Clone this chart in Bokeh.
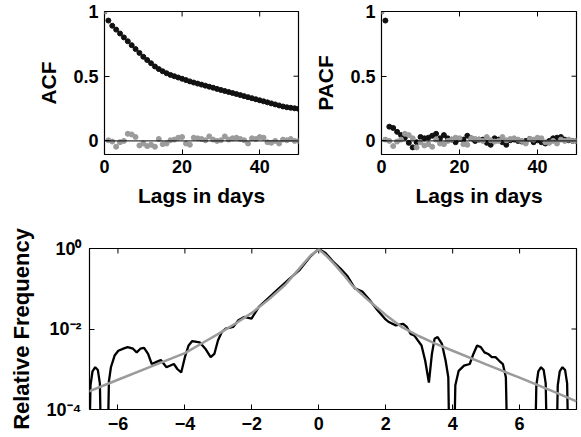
from math import pi
from bokeh.plotting import figure
from bokeh.layouts import column, row
from bokeh.models import FixedTicker, Span, Range1d, CustomJSTickFormatter
from bokeh.embed import file_html
from bokeh.resources import INLINE

# ---------------- data ----------------
lags = list(range(51))

acf_black = [1.0, 0.93, 0.89, 0.86, 0.83, 0.80, 0.77, 0.74, 0.71, 0.68, 0.65,
             0.625, 0.60, 0.575, 0.555, 0.538, 0.523, 0.51, 0.50, 0.49, 0.48,
             0.47, 0.46, 0.451, 0.443, 0.435, 0.427, 0.419, 0.411, 0.402, 0.394,
             0.386, 0.378, 0.37, 0.362, 0.354, 0.346, 0.338, 0.33, 0.322, 0.314,
             0.306, 0.298, 0.29, 0.282, 0.274, 0.266, 0.26, 0.256, 0.252, 0.248]

acf_gray = [1.0, 0.005, -0.005, -0.045, -0.01, 0.0, 0.055, 0.05, 0.03, -0.035,
            -0.02, -0.04, -0.03, -0.045, 0.015, -0.025, -0.02, 0.005, 0.01, 0.025,
            0.03, -0.02, -0.03, 0.025, 0.02, 0.015, 0.005, 0.035, 0.01, 0.0,
            0.005, 0.035, 0.01, 0.02, 0.025, 0.015, 0.005, -0.02, 0.02, 0.015,
            0.03, 0.025, -0.01, -0.015, 0.0, -0.02, 0.01, 0.005, 0.015, 0.0, 0.0]

pacf_black = [1.0, 0.93, 0.11, 0.10, 0.07, 0.045, 0.025, -0.015, -0.05, -0.01,
              0.03, 0.02, 0.025, 0.04, 0.055, 0.02, 0.045, 0.02, 0.01, -0.01,
              0.015, 0.01, 0.04, 0.02, 0.0, 0.01, 0.01, -0.015, -0.03, 0.02,
              0.01, -0.01, -0.03, 0.005, 0.01, 0.0, -0.005, 0.0, 0.015, -0.01,
              0.005, -0.01, -0.02, 0.0, 0.02, 0.025, 0.03, 0.01, 0.005, 0.0, 0.0]

pacf_gray = [1.0, 0.01, 0.0, -0.04, -0.005, 0.01, 0.055, 0.045, 0.02, -0.05,
             -0.01, -0.035, -0.025, -0.045, 0.01, -0.02, -0.025, 0.0, 0.01, 0.025,
             0.02, -0.025, -0.03, 0.02, 0.015, 0.01, 0.0, 0.03, 0.005, -0.005,
             0.0, 0.03, 0.005, 0.015, 0.02, 0.01, 0.0, -0.02, 0.015, 0.01,
             0.025, 0.02, -0.01, -0.015, 0.0, -0.02, 0.01, 0.0, 0.01, 0.0, 0.0]

# empirical density (log10 of relative frequency); -6 = below axis (zero)
emp_x = [-6.88, -6.82, -6.76, -6.68, -6.60, -6.54, -6.48, -6.33, -6.27, -6.21,
         -6.10, -5.99, -5.82, -5.71, -5.55, -5.44, -5.33, -5.22, -5.10, -4.99,
         -4.88, -4.72, -4.55, -4.33, -4.22, -4.11, -4.00, -3.89, -3.78, -3.56,
         -3.39, -3.23, -3.12, -3.01, -2.90, -2.78, -2.56, -2.40, -2.23, -2.01,
         -1.79, -1.57, -1.24, -0.91, -0.57, -0.24, 0.0, 0.20, 0.42, 0.64,
         0.86, 1.08, 1.30, 1.52, 1.75, 1.97, 2.08, 2.30, 2.52, 2.63,
         2.74, 2.85, 3.07, 3.18, 3.29, 3.38, 3.46, 3.55, 3.68, 3.79,
         3.87, 3.92, 4.02, 4.08, 4.18, 4.34, 4.51, 4.62, 4.73, 4.84,
         4.95, 5.06, 5.17, 5.28, 5.39, 5.50, 5.59, 5.66, 6.44, 6.50,
         6.56, 6.64, 6.72, 6.78, 6.84, 7.08, 7.14, 7.20, 7.28, 7.36,
         7.42, 7.48, 7.7]
emp_log = [-6, -3.4, -3.05, -2.95, -3.02, -3.35, -6, -6, -3.3, -2.95,
           -2.66, -2.54, -2.48, -2.45, -2.49, -2.58, -2.49, -2.47, -2.62, -2.87,
           -2.83, -2.77, -2.95, -2.87, -3.00, -3.08, -2.70, -2.41, -2.30, -2.33,
           -2.49, -2.70, -2.62, -2.28, -2.08, -1.99, -1.95, -1.78, -1.70, -1.74,
           -1.45, -1.28, -1.03, -0.78, -0.53, -0.19, -0.01, -0.11, -0.32, -0.49,
           -0.69, -0.99, -1.07, -1.28, -1.53, -1.74, -1.82, -1.91, -1.87, -1.95,
           -2.12, -2.16, -2.41, -2.79, -3.33, -2.62, -2.24, -2.20, -2.37, -2.79,
           -3.2, -6, -6, -3.4, -3.04, -2.91, -2.87, -2.62, -2.41, -2.45,
           -2.58, -2.62, -2.70, -2.70, -2.79, -2.87, -3.2, -6, -6, -3.4,
           -3.05, -2.95, -3.02, -3.35, -6, -6, -3.4, -3.05, -2.95, -3.02,
           -3.35, -6, -6]

fit_x = [-6.9, -6.0, -5.0, -4.0, -3.5, -3.0, -2.5, -2.0, -1.5, -1.0, -0.75, -0.5,
         -0.25, 0.0, 0.25, 0.5, 0.75, 1.0, 1.5, 2.0, 2.5, 3.0, 3.5, 4.0, 5.0,
         6.0, 7.0, 7.7]
fit_log = [-3.56, -3.26, -2.93, -2.60, -2.36, -2.12, -1.87, -1.60, -1.27, -0.90,
           -0.66, -0.42, -0.18, -0.02, -0.20, -0.42, -0.66, -0.92, -1.30, -1.65,
           -1.96, -2.18, -2.37, -2.54, -2.88, -3.21, -3.55, -3.80]

lag_ticks = [0, 20, 40]
cf_ticks = [0, 0.5, 1]
dens_xticks = [-6, -4, -2, 0, 2, 4, 6]
dens_yticks = [1e-4, 1e-2, 1.0]

LAG_RANGE = (0, 50)
CF_RANGE = (-0.105, 1.0)
DX_RANGE = (-6.85, 7.7)
DY_RANGE = (1e-4, 1.0)

# ---------------- style ----------------
FONT = "Liberation Sans"
GRAY = "#9b9b9b"
plain_fmt = CustomJSTickFormatter(code="return String(tick).replace('-', '\u2212');")
log_fmt = CustomJSTickFormatter(code="""
const e = Math.round(Math.log10(tick));
const m = {'0':'\u2070','1':'\u00b9','2':'\u00b2','3':'\u00b3','4':'\u2074','-':'\u207b'};
return '10' + String(e).split('').map(c => m[c]).join('');
""")


def style_axes(p, tick_size, label_size):
    p.grid.visible = False
    p.outline_line_color = "black"
    p.outline_line_width = 1.2
    p.background_fill_color = "white"
    p.border_fill_color = "white"
    for ax in p.axis:
        ax.axis_line_color = None
        ax.major_tick_in = 5
        ax.major_tick_out = 0
        ax.minor_tick_line_color = None
        ax.major_tick_line_color = "black"
        ax.major_tick_line_width = 1
        ax.major_label_text_font = FONT
        ax.major_label_text_font_style = "bold"
        ax.major_label_text_font_size = tick_size
        ax.major_label_text_color = "black"
        ax.axis_label_text_font = FONT
        ax.axis_label_text_font_style = "bold"
        ax.axis_label_text_font_size = label_size
        ax.axis_label_text_color = "black"


def mirror_ticks(p, xt, yt, xr, yr):
    # inward ticks on the top and right edges (half of each dash is clipped)
    p.scatter(xt, [yr[1]] * len(xt), marker="dash", size=10, angle=pi / 2,
              line_color="black", line_width=1)
    p.scatter([xr[1]] * len(yt), yt, marker="dash", size=10,
              line_color="black", line_width=1)


def cf_plot(width, left, ylabel, black, gray):
    p = figure(width=width, height=215, x_range=Range1d(*LAG_RANGE),
               y_range=Range1d(*CF_RANGE), output_backend="svg",
               toolbar_location=None, min_border_left=left, min_border_right=2,
               min_border_top=11, min_border_bottom=61)
    p.xaxis.ticker = FixedTicker(ticks=lag_ticks)
    p.yaxis.ticker = FixedTicker(ticks=cf_ticks)
    p.xaxis.formatter = plain_fmt
    p.yaxis.formatter = plain_fmt
    p.xaxis.axis_label = "Lags in days"
    p.yaxis.axis_label = ylabel
    style_axes(p, "18px", "21px")
    p.xaxis.major_label_standoff = 5
    p.xaxis.axis_label_standoff = 8
    p.yaxis.major_label_standoff = 6
    p.yaxis.axis_label_standoff = 10
    p.add_layout(Span(location=0, dimension="width", line_color="black",
                      line_width=1))
    mirror_ticks(p, lag_ticks, cf_ticks, LAG_RANGE, CF_RANGE)
    p.scatter(lags, black, size=5, color="#111111")
    p.scatter(lags, gray, size=5, color=GRAY)
    return p


p1 = cf_plot(300, 104, "ACF", acf_black, acf_gray)
p2 = cf_plot(278, 81, "PACF", pacf_black, pacf_gray)

p3 = figure(width=578, height=222, x_range=Range1d(*DX_RANGE),
            y_range=Range1d(*DY_RANGE), y_axis_type="log", output_backend="svg",
            toolbar_location=None, min_border_left=89, min_border_right=2,
            min_border_top=33, min_border_bottom=28)
p3.xaxis.ticker = FixedTicker(ticks=dens_xticks)
p3.yaxis.ticker = FixedTicker(ticks=dens_yticks)
p3.xaxis.formatter = plain_fmt
p3.yaxis.formatter = log_fmt
p3.yaxis.axis_label = "Relative Frequency"
style_axes(p3, "18px", "22px")
p3.xaxis.major_label_standoff = 7
p3.yaxis.major_label_standoff = 8
p3.yaxis.axis_label_standoff = 10
mirror_ticks(p3, dens_xticks, dens_yticks, DX_RANGE, DY_RANGE)

emp_y = [10 ** v for v in emp_log]
fit_y = [10 ** v for v in fit_log]
p3.line(emp_x, emp_y, line_color="black", line_width=2.3)
p3.line(fit_x, fit_y, line_color=GRAY, line_width=2.5)

layout = column(row(p1, p2), p3)
open("out.html", "w").write(file_html(layout, INLINE))
